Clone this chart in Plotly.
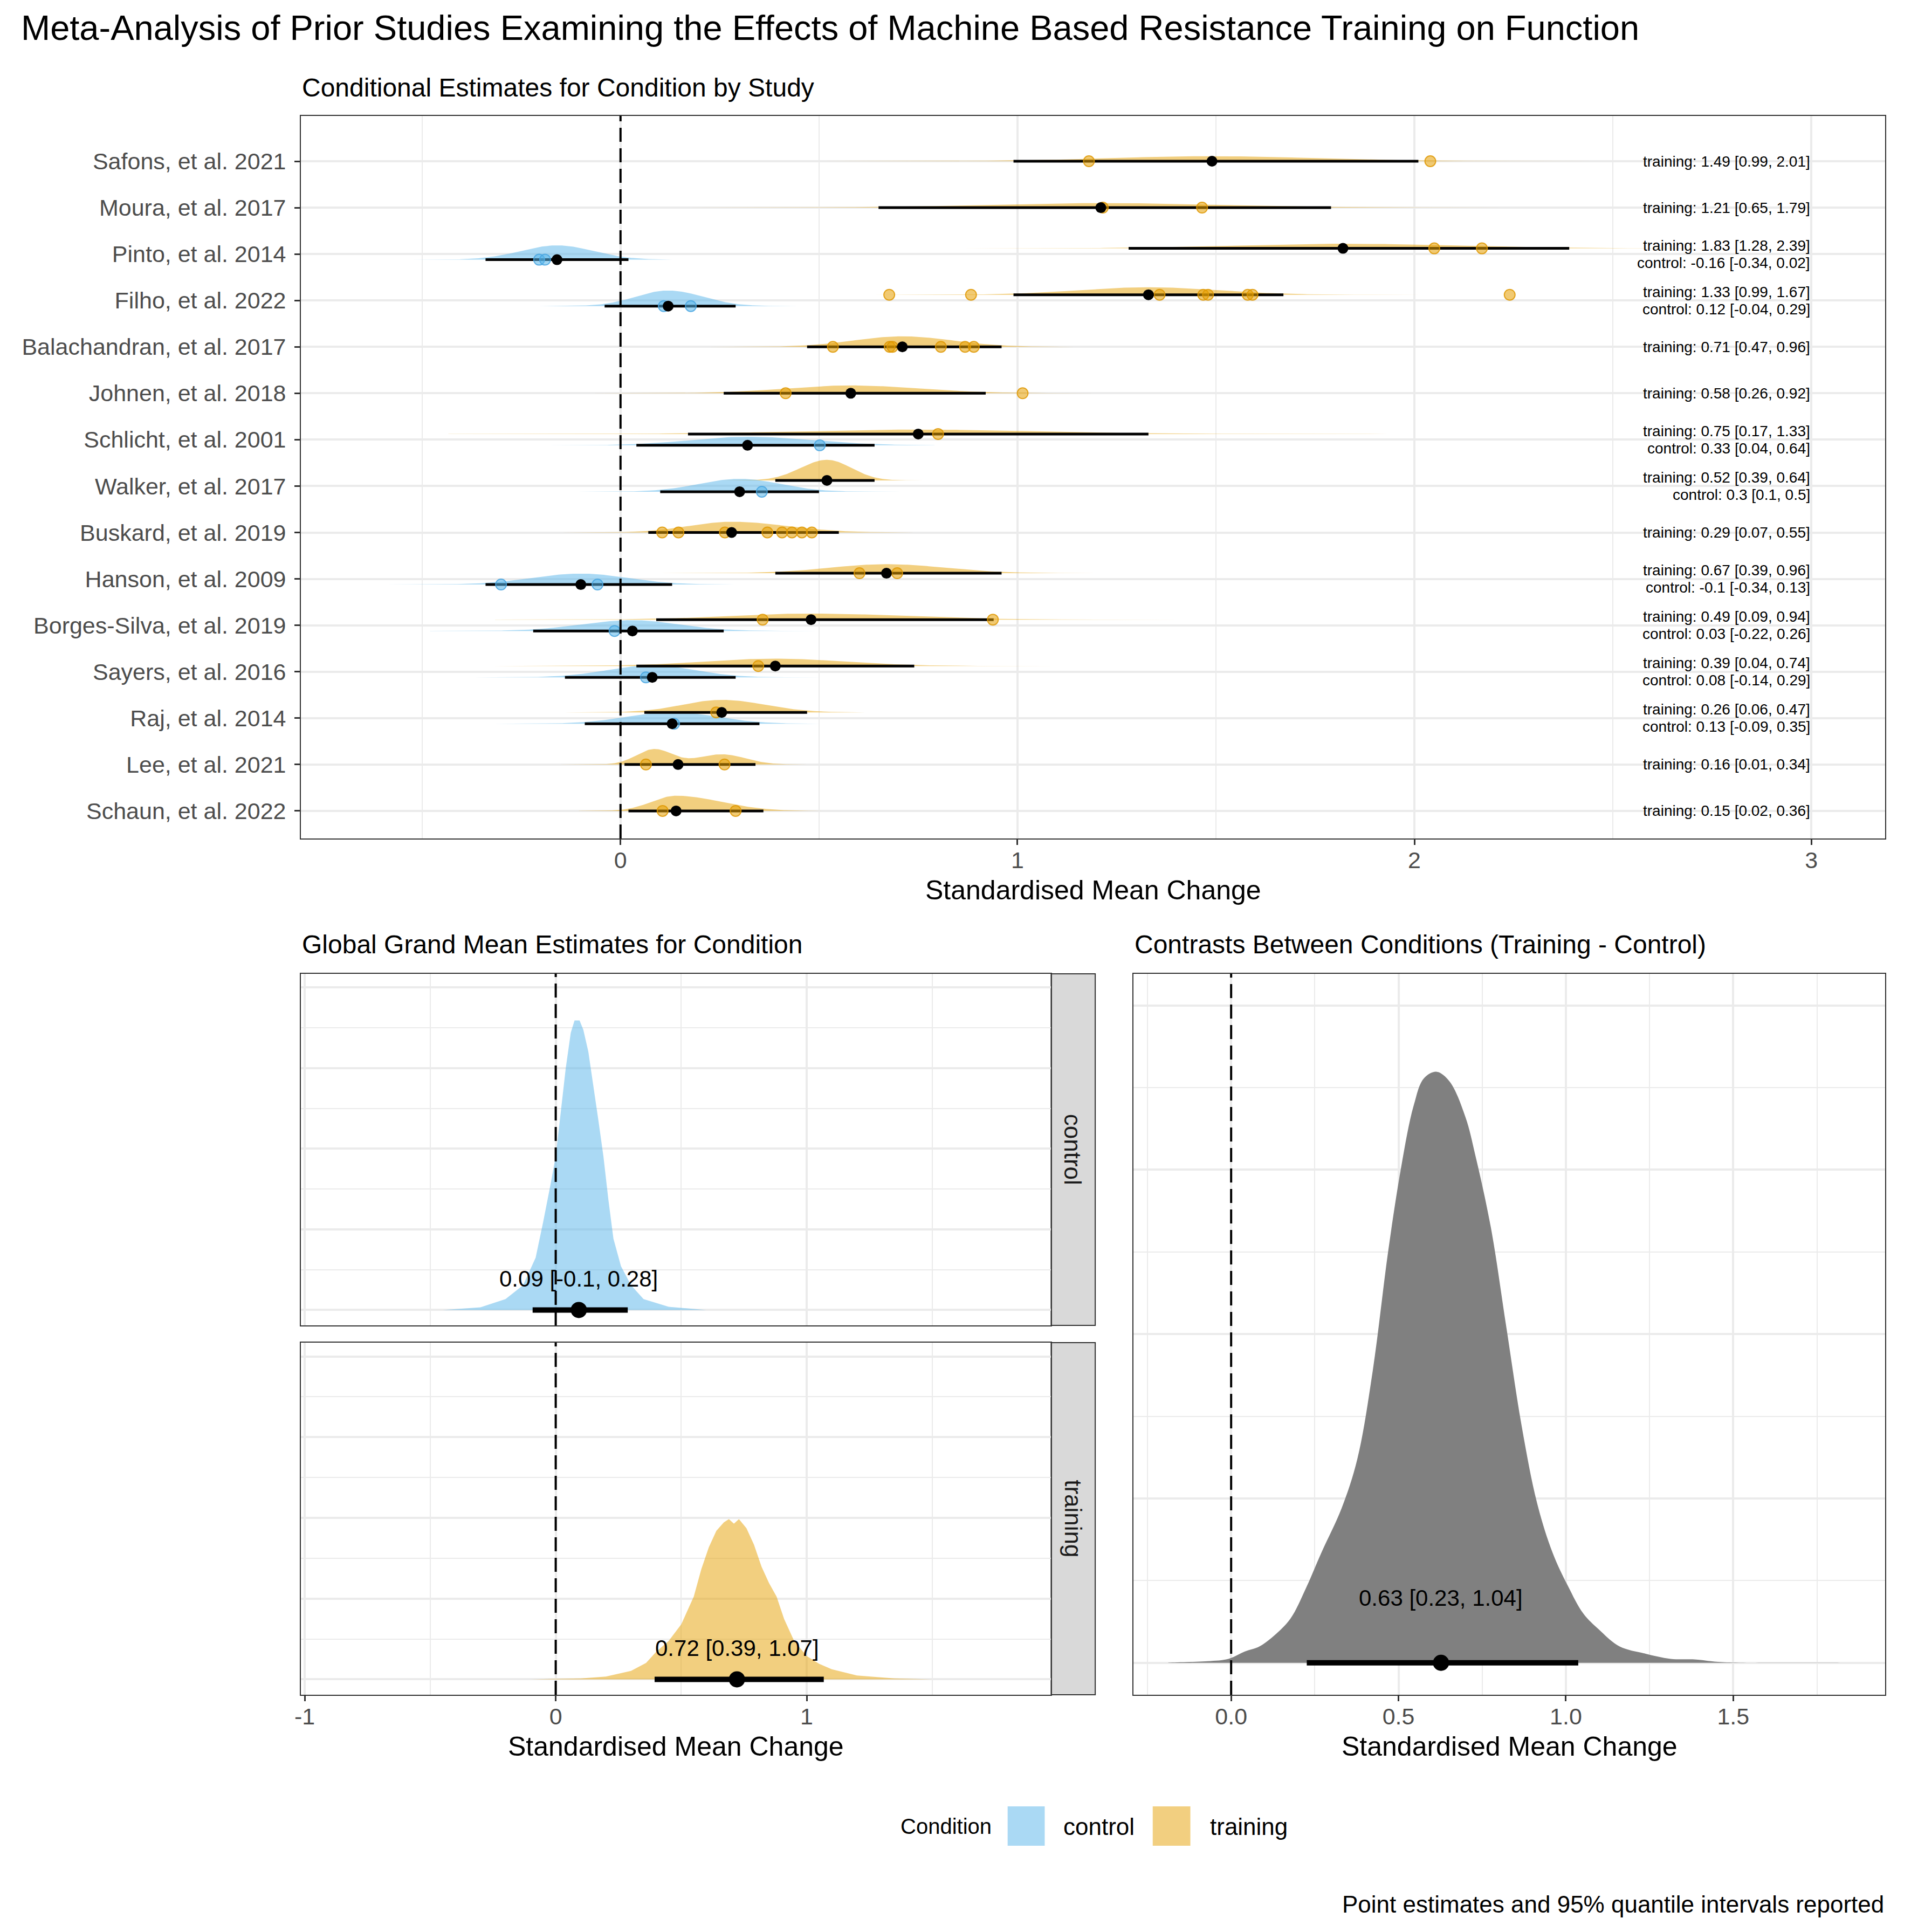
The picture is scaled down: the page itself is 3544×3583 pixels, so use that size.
import numpy as np
import plotly.graph_objects as go

W, H = 3544, 3583
FONT = "Liberation Sans, Arial, sans-serif"

# ---------------- data ----------------
studies = ["Safons, et al. 2021", "Moura, et al. 2017", "Pinto, et al. 2014", "Filho, et al. 2022",
           "Balachandran, et al. 2017", "Johnen, et al. 2018", "Schlicht, et al. 2001", "Walker, et al. 2017",
           "Buskard, et al. 2019", "Hanson, et al. 2009", "Borges-Silva, et al. 2019", "Sayers, et al. 2016",
           "Raj, et al. 2014", "Lee, et al. 2021", "Schaun, et al. 2022"]

train_est = [1.49, 1.21, 1.82, 1.33, 0.71, 0.58, 0.75, 0.52, 0.28, 0.67, 0.48, 0.39, 0.255, 0.145, 0.14]
train_lo = [0.99, 0.65, 1.28, 0.99, 0.47, 0.26, 0.17, 0.39, 0.07, 0.39, 0.09, 0.04, 0.06, 0.01, 0.02]
train_hi = [2.01, 1.79, 2.39, 1.67, 0.96, 0.92, 1.33, 0.64, 0.55, 0.96, 0.94, 0.74, 0.47, 0.34, 0.36]

ctrl_est = [None, None, -0.16, 0.12, None, None, 0.32, 0.30, None, -0.10, 0.03, 0.08, 0.13, None, None]
ctrl_lo = [None, None, -0.34, -0.04, None, None, 0.04, 0.10, None, -0.34, -0.22, -0.14, -0.09, None, None]
ctrl_hi = [None, None, 0.02, 0.29, None, None, 0.64, 0.50, None, 0.13, 0.26, 0.29, 0.35, None, None]

train_labels = ["training: 1.49 [0.99, 2.01]", "training: 1.21 [0.65, 1.79]", "training: 1.83 [1.28, 2.39]",
                "training: 1.33 [0.99, 1.67]", "training: 0.71 [0.47, 0.96]", "training: 0.58 [0.26, 0.92]",
                "training: 0.75 [0.17, 1.33]", "training: 0.52 [0.39, 0.64]", "training: 0.29 [0.07, 0.55]",
                "training: 0.67 [0.39, 0.96]", "training: 0.49 [0.09, 0.94]", "training: 0.39 [0.04, 0.74]",
                "training: 0.26 [0.06, 0.47]", "training: 0.16 [0.01, 0.34]", "training: 0.15 [0.02, 0.36]"]
ctrl_labels = [None, None, "control: -0.16 [-0.34, 0.02]", "control: 0.12 [-0.04, 0.29]", None, None,
               "control: 0.33 [0.04, 0.64]", "control: 0.3 [0.1, 0.5]", None, "control: -0.1 [-0.34, 0.13]",
               "control: 0.03 [-0.22, 0.26]", "control: 0.08 [-0.14, 0.29]", "control: 0.13 [-0.09, 0.35]",
               None, None]

train_obs = [[1.18, 2.04], [1.215, 1.465], [2.05, 2.17],
             [0.677, 0.883, 1.358, 1.468, 1.48, 1.58, 1.592, 2.24],
             [0.535, 0.678, 0.685, 0.807, 0.868, 0.89], [0.416, 1.013], [0.80], [],
             [0.105, 0.146, 0.263, 0.37, 0.407, 0.432, 0.457, 0.482],
             [0.602, 0.697], [0.358, 0.938], [0.347], [0.241], [0.064, 0.262], [0.106, 0.29]]
ctrl_obs = [[], [], [-0.205, -0.19], [0.109, 0.177], [], [], [0.502], [0.356], [],
            [-0.301, -0.058], [-0.015], [0.064], [0.135], [], []]

# bimodal posterior for Lee, et al. 2021 (training)
lee_modes = [0.085, 0.255]
lee_sds = [0.045, 0.06]
lee_weights = [0.525, 0.466]

# global grand means
grand_ctrl = (0.092, -0.092, 0.287)
grand_train = (0.722, 0.394, 1.068)
grand_ctrl_label = "0.09 [-0.1, 0.28]"
grand_train_label = "0.72 [0.39, 1.07]"
grand_ctrl_x = [-0.45, -0.30, -0.2, -0.13, -0.08, -0.05, -0.02, 0.0, 0.02, 0.04, 0.06, 0.075, 0.095, 0.11,
                0.13, 0.15, 0.17, 0.19, 0.21, 0.23, 0.26, 0.30, 0.35, 0.45, 0.60]
grand_ctrl_d = [0, 0.0085, 0.034, 0.077, 0.162, 0.273, 0.392, 0.477, 0.613, 0.750, 0.860, 0.898, 0.898, 0.869,
                0.801, 0.698, 0.588, 0.477, 0.341, 0.221, 0.136, 0.077, 0.034, 0.010, 0]
grand_train_x = [-0.1, 0.1, 0.2, 0.3, 0.36, 0.4, 0.45, 0.5, 0.55, 0.58, 0.61, 0.64, 0.67, 0.69, 0.71, 0.73,
                 0.76, 0.79, 0.82, 0.85, 0.88, 0.91, 0.95, 1.0, 1.05, 1.1, 1.2, 1.35, 1.5]
grand_train_d = [0, 0.003, 0.0085, 0.026, 0.051, 0.085, 0.119, 0.170, 0.256, 0.341, 0.409, 0.460, 0.486, 0.496,
                 0.482, 0.496, 0.468, 0.417, 0.349, 0.298, 0.256, 0.187, 0.119, 0.072, 0.048, 0.031, 0.012,
                 0.003, 0]

# contrast training - control
contrast = (0.627, 0.226, 1.037)
contrast_label = "0.63 [0.23, 1.04]"
contrast_x = [-0.19, -0.07, -0.008, 0.04, 0.085, 0.13, 0.177, 0.223, 0.27, 0.33, 0.377, 0.423, 0.47, 0.508,
              0.545, 0.576, 0.614, 0.653, 0.70, 0.73, 0.776, 0.822, 0.868, 0.914, 0.96, 1.006, 1.052, 1.10,
              1.16, 1.237, 1.313, 1.39, 1.467, 1.85]
contrast_d = [0, 0.0025, 0.006, 0.017, 0.025, 0.042, 0.067, 0.113, 0.168, 0.235, 0.310, 0.444, 0.629, 0.754,
              0.847, 0.889, 0.899, 0.884, 0.830, 0.771, 0.662, 0.511, 0.360, 0.243, 0.168, 0.117, 0.075, 0.050,
              0.025, 0.014, 0.006, 0.005, 0.001, 0]

# ---------------- styles ----------------
TRAIN_FILL = "rgba(230,159,0,0.5)"
CTRL_FILL = "rgba(86,180,233,0.5)"
TRAIN_PT = "rgba(230,159,0,0.55)"
TRAIN_PT_LINE = "rgba(222,150,0,0.85)"
CTRL_PT = "rgba(86,180,233,0.55)"
CTRL_PT_LINE = "rgba(70,165,225,0.85)"
GRID = "#ebebeb"
BORDER = "#333333"
SLAB_SCALE = 0.071
DODGE = 0.122
LABEL_DODGE = 0.187
XOFF = -9


def px(x):
    return (x + XOFF) / W


def py(y):
    return 1 - y / H


def split_normal(m, lo, hi, n=260):
    sl = (m - lo) / 1.96
    sr = (hi - m) / 1.96
    xs = np.linspace(m - 4 * sl, m + 4 * sr, n)
    s = np.where(xs < m, sl, sr)
    pdf = 2.0 / (np.sqrt(2 * np.pi) * (sl + sr)) * np.exp(-0.5 * ((xs - m) / s) ** 2)
    return xs, pdf


def mixture(modes, sds, weights, n=300):
    xs = np.linspace(min(modes) - 4 * max(sds), max(modes) + 4 * max(sds), n)
    pdf = np.zeros_like(xs)
    for mo, sd, w in zip(modes, sds, weights):
        pdf += w / (sd * np.sqrt(2 * np.pi)) * np.exp(-0.5 * ((xs - mo) / sd) ** 2)
    return xs, pdf


fig = go.Figure()
n = len(studies)
rows = [n - i for i in range(n)]
has_ctrl = [c is not None for c in ctrl_est]
ty = [r + DODGE if hc else r for r, hc in zip(rows, has_ctrl)]
cy = [r - DODGE if hc else None for r, hc in zip(rows, has_ctrl)]

# ---- top panel densities ----
for i in range(n):
    if studies[i].startswith("Lee"):
        xs, pdf = mixture(lee_modes, lee_sds, lee_weights)
    else:
        xs, pdf = split_normal(train_est[i], train_lo[i], train_hi[i])
    yb = ty[i]
    fig.add_trace(go.Scatter(x=np.concatenate([xs, xs[::-1]]),
                             y=np.concatenate([yb + SLAB_SCALE * pdf, np.full(len(xs), yb)]),
                             fill="toself", fillcolor=TRAIN_FILL, line=dict(width=0), mode="lines",
                             hoverinfo="skip", xaxis="x", yaxis="y"))
    if has_ctrl[i]:
        xs, pdf = split_normal(ctrl_est[i], ctrl_lo[i], ctrl_hi[i])
        yb = cy[i]
        fig.add_trace(go.Scatter(x=np.concatenate([xs, xs[::-1]]),
                                 y=np.concatenate([yb + SLAB_SCALE * pdf, np.full(len(xs), yb)]),
                                 fill="toself", fillcolor=CTRL_FILL, line=dict(width=0), mode="lines",
                                 hoverinfo="skip", xaxis="x", yaxis="y"))

# ---- top panel intervals ----
ix, iy = [], []
for i in range(n):
    ix += [train_lo[i], train_hi[i], None]
    iy += [ty[i], ty[i], None]
    if has_ctrl[i]:
        ix += [ctrl_lo[i], ctrl_hi[i], None]
        iy += [cy[i], cy[i], None]
fig.add_trace(go.Scatter(x=ix, y=iy, mode="lines", line=dict(color="black", width=5), xaxis="x", yaxis="y"))

# ---- observed effect sizes ----
ox, oy = [], []
for i in range(n):
    ox += train_obs[i]
    oy += [ty[i]] * len(train_obs[i])
fig.add_trace(go.Scatter(x=ox, y=oy, mode="markers",
                         marker=dict(size=20, color=TRAIN_PT, line=dict(color=TRAIN_PT_LINE, width=2)),
                         xaxis="x", yaxis="y"))
ox, oy = [], []
for i in range(n):
    if has_ctrl[i]:
        ox += ctrl_obs[i]
        oy += [cy[i]] * len(ctrl_obs[i])
fig.add_trace(go.Scatter(x=ox, y=oy, mode="markers",
                         marker=dict(size=20, color=CTRL_PT, line=dict(color=CTRL_PT_LINE, width=2)),
                         xaxis="x", yaxis="y"))

# ---- point estimates ----
px_, py_ = list(train_est), list(ty)
for i in range(n):
    if has_ctrl[i]:
        px_.append(ctrl_est[i])
        py_.append(cy[i])
fig.add_trace(go.Scatter(x=px_, y=py_, mode="markers", marker=dict(size=20, color="black"),
                         xaxis="x", yaxis="y"))

annotations = []
for i in range(n):
    annotations.append(dict(x=3.0, y=rows[i] + LABEL_DODGE if has_ctrl[i] else rows[i], xref="x", yref="y",
                            text=train_labels[i], showarrow=False, xanchor="right", yanchor="middle",
                            font=dict(size=28, color="black", family=FONT)))
    if has_ctrl[i]:
        annotations.append(dict(x=3.0, y=rows[i] - LABEL_DODGE, xref="x", yref="y",
                                text=ctrl_labels[i], showarrow=False, xanchor="right", yanchor="middle",
                                font=dict(size=28, color="black", family=FONT)))


# ---- global grand mean facets ----
def add_slab(xv, dv, fillc, xa, ya, shape="linear"):
    xv = list(xv)
    dv = list(dv)
    fig.add_trace(go.Scatter(x=xv + xv[::-1], y=dv + [0] * len(xv), fill="toself", fillcolor=fillc,
                             line=dict(width=0, shape=shape), mode="lines", hoverinfo="skip",
                             xaxis=xa, yaxis=ya))


def add_interval(est, xa, ya):
    fig.add_trace(go.Scatter(x=[est[1], est[2]], y=[0, 0], mode="lines", line=dict(color="black", width=10),
                             xaxis=xa, yaxis=ya))
    fig.add_trace(go.Scatter(x=[est[0]], y=[0], mode="markers", marker=dict(size=30, color="black"),
                             xaxis=xa, yaxis=ya))


add_slab(grand_ctrl_x, grand_ctrl_d, CTRL_FILL, "x2", "y2")
add_interval(grand_ctrl, "x2", "y2")
add_slab(grand_train_x, grand_train_d, TRAIN_FILL, "x3", "y3")
add_interval(grand_train, "x3", "y3")
add_slab(contrast_x, contrast_d, "rgb(128,128,128)", "x4", "y4", shape="spline")
add_interval(contrast, "x4", "y4")

annotations.append(dict(x=grand_ctrl[0], y=0.097, xref="x2", yref="y2", text=grand_ctrl_label, showarrow=False,
                        xanchor="center", yanchor="middle", font=dict(size=42, color="black", family=FONT)))
annotations.append(dict(x=grand_train[0], y=0.096, xref="x3", yref="y3", text=grand_train_label,
                        showarrow=False, xanchor="center", yanchor="middle",
                        font=dict(size=42, color="black", family=FONT)))
annotations.append(dict(x=contrast[0], y=0.099, xref="x4", yref="y4", text=contrast_label, showarrow=False,
                        xanchor="center", yanchor="middle", font=dict(size=42, color="black", family=FONT)))

# ---------------- layout ----------------
TOP = dict(L=557, R=3505, T=215, B=1555)
CTL = dict(L=557, R=1953, T=1806, B=2458)
TRN = dict(L=557, R=1953, T=2490, B=3143)
CON = dict(L=2106, R=3505, T=1806, B=3143)
STRIP_R = 2035

tickfont = dict(size=43, color="#4d4d4d", family=FONT)


def axis_common():
    return dict(showline=True, mirror=True, linecolor=BORDER, linewidth=2, zeroline=False,
                gridcolor=GRID, gridwidth=3.5)


XSTAND = -9
xaxis = axis_common()
xaxis.update(domain=[px(TOP["L"]), px(TOP["R"])], range=[-0.805, 3.186], tickvals=[0, 1, 2, 3],
             ticktext=["0", "1", "2", "3"], ticks="outside", ticklen=10, tickwidth=2.5, tickcolor=BORDER,
             tickfont=tickfont, anchor="y", ticklabelstandoff=XSTAND,
             minor=dict(tickvals=[-0.5, 0.5, 1.5, 2.5], showgrid=True, gridcolor=GRID, gridwidth=1.8, ticks=""))
yaxis = axis_common()
yaxis.update(domain=[py(TOP["B"]), py(TOP["T"])], range=[0.406, 15.976], tickvals=rows, ticktext=studies,
             ticks="outside", ticklen=10, tickwidth=2.5, tickcolor=BORDER, tickfont=tickfont, anchor="x",
             ticklabelstandoff=7)

xaxis2 = axis_common()
xaxis2.update(domain=[px(CTL["L"]), px(CTL["R"])], range=[-1.015, 1.974], tickvals=[-1, 0, 1],
              showticklabels=False, ticks="", anchor="y2",
              minor=dict(tickvals=[-0.5, 0.5, 1.5], showgrid=True, gridcolor=GRID, gridwidth=1.8, ticks=""))
yaxis2 = axis_common()
yaxis2.update(domain=[py(CTL["B"]), py(CTL["T"])], range=[-0.0477, 1.0426], tickvals=[0, 0.25, 0.5, 0.75, 1],
              showticklabels=False, ticks="", anchor="x2",
              minor=dict(tickvals=[0.125, 0.375, 0.625, 0.875], showgrid=True, gridcolor=GRID, gridwidth=1.8,
                         ticks=""))
xaxis3 = axis_common()
xaxis3.update(domain=[px(TRN["L"]), px(TRN["R"])], range=[-1.015, 1.974], tickvals=[-1, 0, 1],
              ticktext=["-1", "0", "1"], ticks="outside", ticklen=10, tickwidth=2.5, tickcolor=BORDER,
              tickfont=tickfont, anchor="y3", ticklabelstandoff=XSTAND,
              minor=dict(tickvals=[-0.5, 0.5, 1.5], showgrid=True, gridcolor=GRID, gridwidth=1.8, ticks=""))
yaxis3 = axis_common()
yaxis3.update(domain=[py(TRN["B"]), py(TRN["T"])], range=[-0.0477, 1.0426], tickvals=[0, 0.25, 0.5, 0.75, 1],
              showticklabels=False, ticks="", anchor="x3",
              minor=dict(tickvals=[0.125, 0.375, 0.625, 0.875], showgrid=True, gridcolor=GRID, gridwidth=1.8,
                         ticks=""))
xaxis4 = axis_common()
xaxis4.update(domain=[px(CON["L"]), px(CON["R"])], range=[-0.292, 1.954], tickvals=[0, 0.5, 1, 1.5],
              ticktext=["0.0", "0.5", "1.0", "1.5"], ticks="outside", ticklen=10, tickwidth=2.5,
              tickcolor=BORDER, tickfont=tickfont, anchor="y4", ticklabelstandoff=XSTAND,
              minor=dict(tickvals=[-0.25, 0.25, 0.75, 1.25, 1.75], showgrid=True, gridcolor=GRID,
                         gridwidth=1.8, ticks=""))
yaxis4 = axis_common()
yaxis4.update(domain=[py(CON["B"]), py(CON["T"])], range=[-0.0486, 1.048], tickvals=[0, 0.25, 0.5, 0.75, 1],
              showticklabels=False, ticks="", anchor="x4",
              minor=dict(tickvals=[0.125, 0.375, 0.625, 0.875], showgrid=True, gridcolor=GRID, gridwidth=1.8,
                         ticks=""))

DASH = dict(color="black", width=4, dash="26px,12px")
shapes = []
for xa, ya in [("x", "y"), ("x2", "y2"), ("x3", "y3"), ("x4", "y4")]:
    shapes.append(dict(type="line", xref=xa, yref=ya + " domain", x0=0, x1=0, y0=0, y1=1, line=DASH,
                       layer="above"))

# facet strips
for P, lab in [(CTL, "control"), (TRN, "training")]:
    shapes.append(dict(type="rect", xref="paper", yref="paper", x0=px(P["R"]), x1=px(STRIP_R),
                       y0=py(P["B"]), y1=py(P["T"]), fillcolor="#d9d9d9", line=dict(color=BORDER, width=2),
                       layer="below"))
    annotations.append(dict(x=px((P["R"] + STRIP_R) / 2), y=py((P["T"] + P["B"]) / 2), xref="paper",
                            yref="paper", text=lab, textangle=90, showarrow=False, xanchor="center",
                            yanchor="middle", font=dict(size=44, color="#1a1a1a", family=FONT)))

# legend (manual)
shapes.append(dict(type="rect", xref="paper", yref="paper", x0=px(1872), x1=px(1941), y0=py(3423), y1=py(3350),
                   fillcolor="#aad9f4", line=dict(width=0)))
shapes.append(dict(type="rect", xref="paper", yref="paper", x0=px(2142), x1=px(2212), y0=py(3423), y1=py(3350),
                   fillcolor="#f2cf80", line=dict(width=0)))


def txt(x, y, s, size, xanchor="left", color="black"):
    annotations.append(dict(x=px(x), y=py(y), xref="paper", yref="paper", text=s, showarrow=False,
                            xanchor=xanchor, yanchor="middle", font=dict(size=size, color=color, family=FONT)))


txt(1671, 3387, "Condition", 40)
txt(1974, 3387, "control", 44)
txt(2247, 3387, "training", 44)

txt(34, 51, "Meta-Analysis of Prior Studies Examining the Effects of Machine Based Resistance Training on Function", 65)
txt(557, 163, "Conditional Estimates for Condition by Study", 48)
txt(557, 1752, "Global Grand Mean Estimates for Condition", 48)
txt(2106, 1752, "Contrasts Between Conditions (Training - Control)", 48)
txt((TOP["L"] + TOP["R"]) / 2, 1651, "Standardised Mean Change", 50, "center")
txt((TRN["L"] + TRN["R"]) / 2, 3239, "Standardised Mean Change", 50, "center")
txt((CON["L"] + CON["R"]) / 2, 3239, "Standardised Mean Change", 50, "center")
txt(3505, 3531, "Point estimates and 95% quantile intervals reported", 44, "right")

fig.update_layout(width=W, height=H, margin=dict(l=0, r=0, t=0, b=0), showlegend=False,
                  plot_bgcolor="white", paper_bgcolor="white", font=dict(family=FONT),
                  xaxis=xaxis, yaxis=yaxis, xaxis2=xaxis2, yaxis2=yaxis2, xaxis3=xaxis3, yaxis3=yaxis3,
                  xaxis4=xaxis4, yaxis4=yaxis4, shapes=shapes, annotations=annotations)

fig.write_html("out.html", config={"displayModeBar": False},
               post_script="document.documentElement.style.margin='0px';"
                           "document.documentElement.style.padding='0px';"
                           "document.body.style.margin='0px';document.body.style.padding='0px';"
                           "document.body.style.overflow='hidden';window.scrollTo(0,0);")
